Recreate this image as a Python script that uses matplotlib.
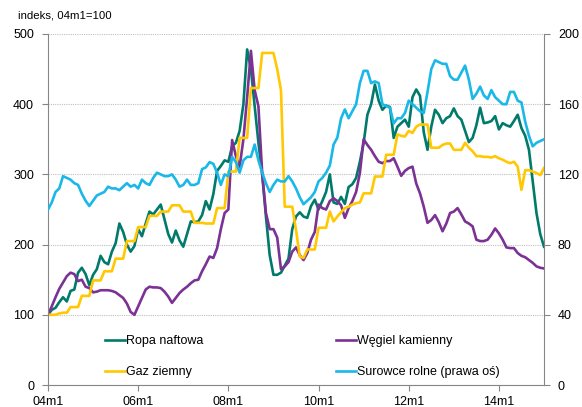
import matplotlib
matplotlib.use('Agg')
import matplotlib.pyplot as plt
import numpy as np

plt.rcParams['font.family'] = ['Liberation Sans', 'DejaVu Sans']

# monthly index values, 04m1 ... 15m1 (04m1 = 100)
ropa = [100, 107, 110, 118, 125, 119, 134, 136, 160, 167, 158, 142,
        157, 165, 184, 175, 172, 190, 202, 230, 218, 200, 190, 198,
        222, 212, 230, 247, 243, 250, 257, 236, 215, 203, 220, 206,
        197, 215, 233, 232, 233, 242, 262, 250, 272, 305, 312, 320,
        318, 340, 345, 362, 400, 478, 450, 398, 345, 300, 240, 185,
        157, 157, 160, 170, 180, 222, 240, 246, 240, 238, 255, 264,
        250, 262, 275, 300, 260, 258, 268, 258, 282, 286, 295, 318,
        345, 385, 400, 428, 405, 392, 398, 396, 352, 368, 373, 378,
        368, 410, 421, 412, 360, 335, 368, 392, 385, 373, 380, 383,
        394, 383, 378, 362, 346, 352, 370, 395, 373, 374, 376, 383,
        364, 373, 370, 368, 376, 385, 366, 355, 335, 290, 245, 215,
        197]
wegiel = [100, 112, 125, 137, 146, 155, 160, 158, 148, 150, 140, 138,
          132, 133, 135, 135, 135, 134, 132, 128, 124, 116, 104, 100,
          112, 124, 136, 140, 139, 139, 138, 133, 126, 117, 124, 131,
          136, 140, 145, 149, 150, 162, 172, 183, 181, 195, 222, 245,
          250, 349, 326, 311, 350, 410, 476, 420, 397, 302, 245, 222,
          222, 210, 165, 169, 175, 190, 196, 185, 178, 188, 207, 218,
          257, 252, 250, 262, 266, 262, 256, 238, 252, 262, 275, 302,
          350, 342, 335, 326, 318, 316, 319, 319, 323, 311, 298, 305,
          309, 311, 287, 273, 254, 231, 235, 242, 232, 219, 230, 245,
          247, 252, 243, 233, 230, 226, 207, 205, 205, 207, 214, 223,
          216, 207, 196, 195, 195, 188, 184, 182, 178, 174, 169, 167,
          166]
gaz = [100, 100, 100, 102, 103, 103, 111, 111, 111, 127, 127, 127,
       149, 149, 149, 162, 162, 162, 180, 180, 180, 205, 205, 205,
       225, 225, 225, 241, 241, 241, 247, 247, 247, 256, 256, 256,
       247, 247, 247, 231, 231, 231, 230, 230, 230, 252, 252, 252,
       304, 304, 304, 352, 352, 352, 423, 423, 423, 473, 473, 473,
       473, 450, 420, 254, 254, 254, 221, 183, 181, 193, 193, 193,
       224, 224, 224, 247, 233, 240, 246, 252, 254, 257, 259, 260,
       273, 273, 273, 297, 297, 297, 328, 328, 328, 357, 355, 354,
       362, 359, 368, 371, 371, 371, 338, 338, 338, 342, 344, 344,
       335, 335, 335, 345, 338, 333, 326, 326, 325, 325, 324, 326,
       323, 321, 318, 316, 318, 311, 278, 306, 306, 304, 302, 299,
       309]
surowce = [100, 104, 110, 112, 119, 118, 117, 115, 114, 109, 105, 102,
           105, 108, 109, 110, 113, 112, 112, 111, 113, 115, 113, 114,
           112, 117, 115, 114, 118, 121, 120, 119, 119, 120, 117, 113,
           114, 117, 114, 114, 115, 123, 124, 127, 126, 121, 114, 120,
           119, 130, 127, 121, 128, 130, 130, 137, 128, 121, 115, 110,
           114, 117, 116, 116, 119, 116, 112, 107, 103, 105, 107, 110,
           116, 118, 121, 125, 137, 141, 152, 157, 152, 156, 160, 172,
           179, 179, 172, 173, 172, 160, 159, 158, 149, 152, 152, 155,
           162, 160, 158, 156, 155, 167, 180, 185, 184, 183, 183, 176,
           174, 174, 178, 182, 174, 163, 166, 170, 165, 163, 168, 164,
           162, 160, 160, 167, 167, 162, 161, 150, 142, 136, 138, 139,
           140]

months = np.arange(len(ropa))
tick_pos = [0, 24, 48, 72, 96, 120]
tick_labels = ['04m1', '06m1', '08m1', '10m1', '12m1', '14m1']

fig = plt.figure(figsize=(5.82, 4.07), dpi=100)
ax = fig.add_axes([48/582, 22/407, 496/582, 351/407])
ax2 = ax.twinx()

lw = 1.9
l_ropa, = ax.plot(months, ropa, color='#007a6a', lw=lw)
l_weg, = ax.plot(months, wegiel, color='#7b3294', lw=lw)
l_gaz, = ax.plot(months, gaz, color='#ffc800', lw=lw)
l_sur, = ax2.plot(months, surowce, color='#1ab8e8', lw=lw)

ax.set_xlim(0, 132)
ax.set_ylim(0, 500)
ax2.set_ylim(0, 200)
ax.set_yticks([0, 100, 200, 300, 400, 500])
ax2.set_yticks([0, 40, 80, 120, 160, 200])
ax.set_xticks(tick_pos)
ax.set_xticklabels(tick_labels)

ax.set_axisbelow(True)
ax.yaxis.grid(True, linestyle=(0, (1, 1)), color='#c0c0c0', lw=0.8)

gray = '#868686'
for a in (ax, ax2):
    a.spines['top'].set_visible(False)
    for s in a.spines.values():
        s.set_color(gray)
ax.spines['right'].set_visible(False)
ax2.spines['left'].set_visible(False)
ax2.spines['bottom'].set_visible(False)

ax.tick_params(axis='y', direction='out', length=4, color=gray, labelsize=9, pad=6)
ax.tick_params(axis='x', direction='out', length=4, color=gray, labelsize=9, pad=4)
ax2.tick_params(axis='y', direction='out', length=4, color=gray, labelsize=9, pad=6)

fig.text(18/582, 1 - 15/407, 'indeks, 04m1=100', fontsize=8.2, va='center', ha='left')

ax2.legend([l_ropa, l_gaz, l_weg, l_sur],
           ['Ropa naftowa', 'Gaz ziemny', 'Węgiel kamienny', 'Surowce rolne (prawa oś)'],
           ncol=2, loc='upper left', bbox_to_anchor=(0.115, 0.142), frameon=False,
           fontsize=9, handlelength=1.6, handletextpad=0.1, columnspacing=10.6,
           labelspacing=1.5, borderpad=0, borderaxespad=0)

plt.savefig('out.png', dpi=100)
